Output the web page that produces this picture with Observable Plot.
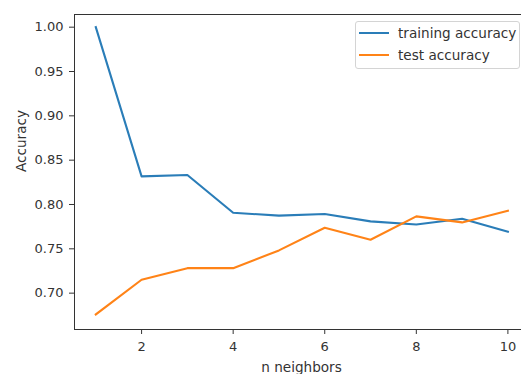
<!DOCTYPE html>
<html>
<head>
<meta charset="utf-8">
<script src="https://cdn.jsdelivr.net/npm/d3@7"></script>
<script src="https://cdn.jsdelivr.net/npm/@observablehq/plot@0.6"></script>
<style>
  body { margin: 0; background: #fff; font-family: "DejaVu Sans", sans-serif; }
  #wrap { position: relative; width: 521px; height: 374px; overflow: hidden; }
  #legend { position: absolute; left: 355px; top: 21px; width: 163px; height: 46px;
    border: 1px solid #d4d4d4; border-radius: 3px; background: rgba(255,255,255,0.85);
    font: 13.6px "DejaVu Sans", sans-serif; color: #333; }
  .item { position: absolute; left: 0; height: 20px; width: 163px; }
  .swatch { position: absolute; left: 3px; width: 30px; height: 2px; }
  .lab { position: absolute; left: 42px; white-space: nowrap; line-height: 16px; }
</style>
</head>
<body>
<div id="wrap"></div>
<script>
const neighbors = [1, 2, 3, 4, 5, 6, 7, 8, 9, 10];
const trainAccuracy = [1.000, 0.8317, 0.8332, 0.7907, 0.7874, 0.7892, 0.7810, 0.7775, 0.7840, 0.7693];
const testAccuracy  = [0.676, 0.7151, 0.7282, 0.7282, 0.7482, 0.7738, 0.7603, 0.7866, 0.7798, 0.7930];
const seriesNames = ["training accuracy", "test accuracy"];
const seriesColors = ["#2a7db8", "#ff8317"];
const xTicks = [2, 4, 6, 8, 10];
const yTicks = [0.70, 0.75, 0.80, 0.85, 0.90, 0.95, 1.00];
const xLabel = "n neighbors";
const yLabel = "Accuracy";

const rows = [];
neighbors.forEach((n, i) => {
  rows.push({n, acc: trainAccuracy[i], series: seriesNames[0]});
});
neighbors.forEach((n, i) => {
  rows.push({n, acc: testAccuracy[i], series: seriesNames[1]});
});

const chart = Plot.plot({
  width: 521,
  height: 374,
  marginLeft: 74,
  marginRight: -7,
  marginTop: 14,
  marginBottom: 45,
  style: {fontFamily: "DejaVu Sans, sans-serif", fontSize: "13px", color: "#333", background: "white"},
  x: {domain: [0.535, 10.45]},
  y: {domain: [0.659, 1.0143]},
  color: {domain: seriesNames, range: seriesColors},
  marks: [
    Plot.frame({stroke: "#333", strokeWidth: 1}),
    Plot.axisY({ticks: yTicks, tickFormat: d3.format(".2f"), tickSize: 5, tickPadding: 6, fontSize: 13, label: null, stroke: "#333", strokeOpacity: 1}),
    Plot.axisX({ticks: xTicks, tickFormat: d3.format("d"), tickSize: 5, tickPadding: 7, fontSize: 13, label: null, stroke: "#333", strokeOpacity: 1}),
    Plot.line(rows, {x: "n", y: "acc", z: "series", stroke: "series", strokeWidth: 2.1, strokeLinejoin: "round", strokeLinecap: "square"}),
    Plot.text([xLabel], {text: d => d, frameAnchor: "bottom", dy: 42, fontSize: 13.6, fill: "#333"}),
    Plot.text([yLabel], {text: d => d, frameAnchor: "left", rotate: -90, dx: -53, fontSize: 13.6, fill: "#333"})
  ]
});

const wrap = document.getElementById("wrap");
wrap.appendChild(chart);

const legend = document.createElement("div");
legend.id = "legend";
seriesNames.forEach((name, i) => {
  const item = document.createElement("div");
  item.className = "item";
  item.style.top = (i * 21.6 + 2) + "px";
  const sw = document.createElement("div");
  sw.className = "swatch";
  sw.style.top = "8px";
  sw.style.background = seriesColors[i];
  const lab = document.createElement("div");
  lab.className = "lab";
  lab.style.top = "1px";
  lab.textContent = name;
  item.appendChild(sw);
  item.appendChild(lab);
  legend.appendChild(item);
});
wrap.appendChild(legend);
</script>
</body>
</html>
